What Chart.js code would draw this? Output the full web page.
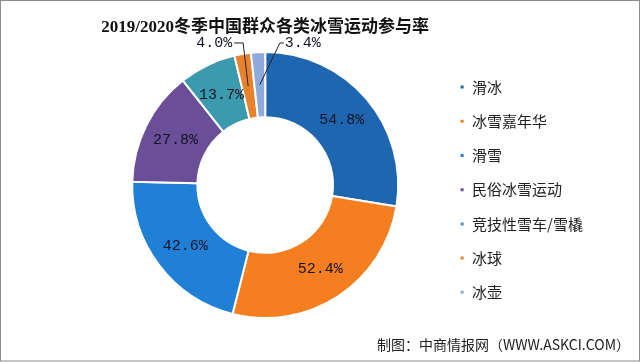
<!DOCTYPE html>
<html>
<head>
<meta charset="utf-8">
<script src="https://cdn.jsdelivr.net/npm/chart.js@4"></script>
<style>
  html, body { margin: 0; padding: 0; background: #fff; }
  #wrap { width: 640px; height: 362px; position: relative; }
</style>
</head>
<body>
<div id="wrap"><canvas id="myChart" width="640" height="362"></canvas></div>
<script>
const titleText = "2019/2020冬季中国群众各类冰雪运动参与率";
const sourceText = "制图：中商情报网（WWW.ASKCI.COM）";
const categories = ["滑冰", "冰雪嘉年华", "滑雪", "民俗冰雪运动", "竞技性雪车/雪橇", "冰球", "冰壶"];
const rates = [54.8, 52.4, 42.6, 27.8, 13.7, 4.0, 3.4];
const colors = ["#1F66B0", "#F57F20", "#1F80D6", "#6A4F98", "#3C9AAF", "#E9822C", "#8EA9DB"];

// labels: inside the ring, small slices get a leader line going up
const labelPlugin = {
  id: "pctLabels",
  afterDatasetsDraw(chart) {
    const ctx = chart.ctx;
    const meta = chart.getDatasetMeta(0);
    ctx.save();
    ctx.font = "15px 'Liberation Mono', monospace";
    ctx.fillStyle = "#141428";
    ctx.textBaseline = "middle";
    meta.data.forEach((arc, i) => {
      const txt = rates[i].toFixed(1) + "%";
      const mid = (arc.startAngle + arc.endAngle) / 2;
      const r = (arc.innerRadius + arc.outerRadius) / 2;
      const px = arc.x + Math.cos(mid) * r;
      const py = arc.y + Math.sin(mid) * r;
      if (rates[i] >= 10) {
        ctx.textAlign = "center";
        ctx.fillText(txt, px, py);
        return;
      }
      // leader line
      const ly = arc.y - arc.outerRadius - 9;
      const left = i === 5;
      const ex = left ? px - 5 : px + 20;
      ctx.strokeStyle = "#222";
      ctx.lineWidth = 1;
      ctx.beginPath();
      ctx.moveTo(px, py);
      ctx.lineTo(ex, ly);
      ctx.lineTo(left ? ex - 9 : ex + 4, ly);
      ctx.stroke();
      ctx.textAlign = left ? "right" : "left";
      ctx.fillText(txt, left ? ex - 11 : ex + 5, ly);
    });
    // source line
    ctx.font = "14px 'Noto Sans CJK SC', sans-serif";
    ctx.fillStyle = "#222";
    ctx.textAlign = "right";
    ctx.fillText(sourceText, 630, 345);
    // frame
    ctx.strokeStyle = "#8c8c8c";
    ctx.strokeRect(0.5, 0.5, chart.width - 1, chart.height - 1.5);
    ctx.restore();
  }
};

new Chart(document.getElementById("myChart"), {
  type: "doughnut",
  data: {
    labels: categories,
    datasets: [{
      data: rates,
      backgroundColor: colors,
      borderColor: "#fff",
      borderWidth: 2
    }]
  },
  options: {
    responsive: false,
    animation: false,
    cutout: "51%",
    layout: { padding: { left: 90, right: 47, top: 0, bottom: 43 } },
    plugins: {
      tooltip: { enabled: false },
      title: {
        display: true,
        text: titleText,
        fullSize: false,
        color: "#111",
        font: { family: "'Liberation Serif', 'Noto Sans CJK SC', serif", size: 17, weight: "bold" },
        padding: { top: 17, bottom: 13.6 }
      },
      legend: {
        position: "right",
        align: "end",
        labels: {
          boxWidth: 5,
          boxHeight: 5,
          padding: 19.2,
          color: "#222",
          font: { family: "'Noto Sans CJK SC', sans-serif", size: 15 }
        }
      }
    }
  },
  plugins: [labelPlugin]
});
</script>
</body>
</html>
